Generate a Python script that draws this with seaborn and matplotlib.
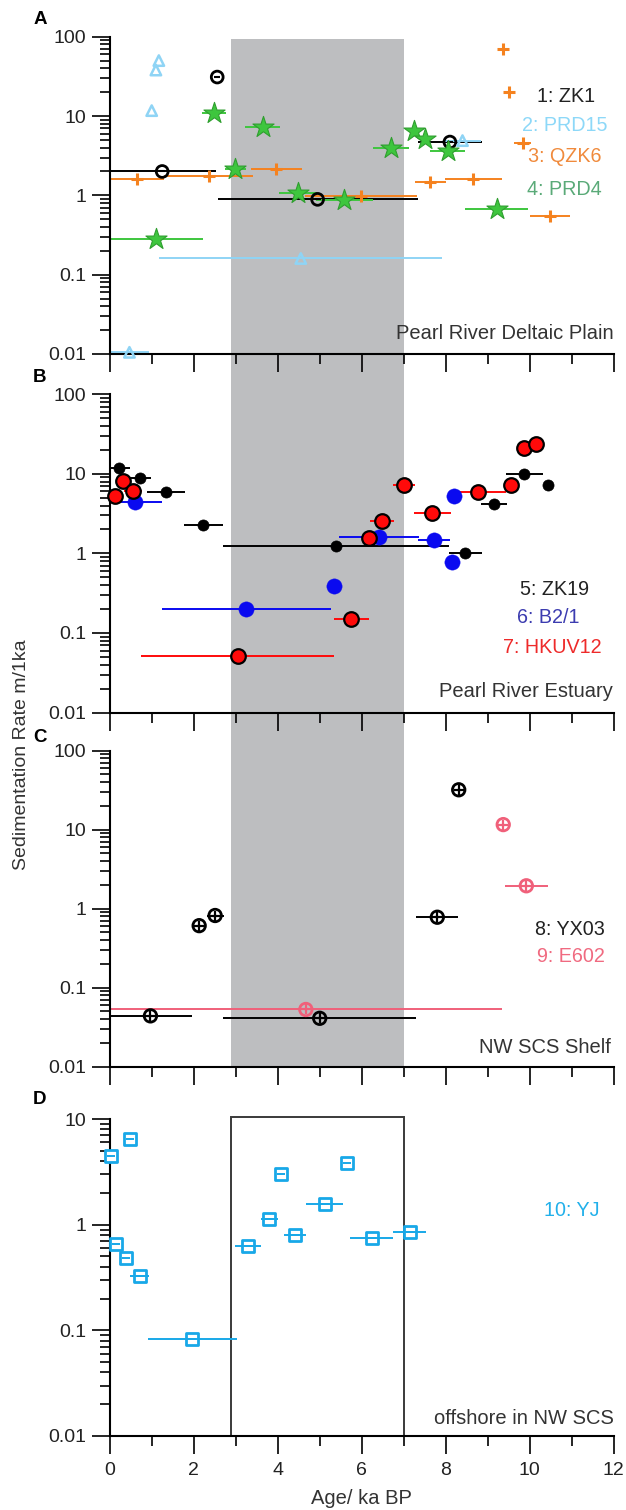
import numpy as np
import pandas as pd
import seaborn as sns
import matplotlib
matplotlib.use("Agg")
from matplotlib import pyplot as plt
from matplotlib import transforms
from matplotlib.patches import Rectangle
from matplotlib.ticker import FixedLocator, LogLocator, NullFormatter, FuncFormatter, MultipleLocator

# == data (age in ka BP, sedimentation rate in m/1ka, half width of age range) ==
# A: Pearl River Deltaic Plain
zk1_age = [1.25, 2.56, 4.95, 8.1]
zk1_rate = [2.0, 31.0, 0.89, 4.7]
zk1_err = [1.27, 0.0, 2.38, 0.77]

prd15_age = [0.47, 1.0, 1.1, 1.17, 4.55, 8.4]
prd15_rate = [0.0105, 11.7, 38.0, 50.0, 0.16, 4.9]
prd15_err = [0.47, 0.0, 0.0, 0.0, 3.37, 0.45]

qzk6_age = [0.64, 2.36, 3.97, 5.98, 7.63, 8.66, 9.37, 9.51, 9.83, 10.48]
qzk6_rate = [1.59, 1.77, 2.13, 0.98, 1.49, 1.61, 70.0, 20.0, 4.6, 0.55]
qzk6_err = [0.65, 1.06, 0.6, 1.33, 0.37, 0.68, 0.0, 0.0, 0.2, 0.47]

prd4_age = [1.1, 2.48, 2.99, 3.64, 4.48, 5.59, 6.69, 7.25, 7.51, 8.05, 9.21]
prd4_rate = [0.28, 11.0, 2.13, 7.3, 1.06, 0.87, 3.92, 6.5, 5.2, 3.65, 0.67]
prd4_err = [1.12, 0.29, 0.25, 0.42, 0.45, 0.67, 0.43, 0.0, 0.0, 0.42, 0.76]

# B: Pearl River Estuary
zk19_age = [0.23, 0.72, 1.34, 2.23, 5.38, 8.47, 9.15, 9.87, 10.44]
zk19_rate = [11.9, 8.8, 5.9, 2.27, 1.25, 1.0, 4.17, 10.1, 7.2]
zk19_err = [0.25, 0.26, 0.45, 0.47, 2.69, 0.4, 0.3, 0.44, 0.0]

b21_age = [0.61, 3.25, 5.35, 6.42, 7.72, 8.15, 8.2]
b21_rate = [4.4, 0.2, 0.39, 1.59, 1.47, 0.79, 5.3]
b21_err = [0.63, 2.01, 0.0, 0.95, 0.38, 0.0, 0.0]

hkuv12_age = [0.13, 0.31, 0.55, 3.05, 5.75, 6.18, 6.48, 7.01, 7.68, 8.76, 9.55, 9.87, 10.14]
hkuv12_rate = [5.3, 8.2, 6.1, 0.052, 0.148, 1.55, 2.55, 7.3, 3.24, 5.9, 7.3, 21.0, 23.7]
hkuv12_err = [0.0, 0.0, 0.22, 2.3, 0.42, 0.0, 0.29, 0.27, 0.44, 0.68, 0.0, 0.1, 0.0]

# C: NW SCS Shelf
yx03_age = [0.97, 2.13, 2.51, 5.0, 7.8, 8.31]
yx03_rate = [0.044, 0.61, 0.82, 0.041, 0.78, 32.0]
yx03_err = [0.98, 0.0, 0.2, 2.3, 0.5, 0.0]

e602_age = [4.67, 9.37, 9.92]
e602_rate = [0.053, 11.6, 1.95]
e602_err = [4.67, 0.0, 0.51]

# D: offshore in NW SCS
yj_age = [0.04, 0.49, 0.14, 0.38, 0.71, 1.97, 3.29, 3.8, 4.08, 4.41, 5.12, 5.65, 6.24, 7.14]
yj_rate = [4.5, 6.5, 0.65, 0.48, 0.33, 0.082, 0.63, 1.14, 3.03, 0.8, 1.57, 3.81, 0.74, 0.85]
yj_err = [0.0, 0.0, 0.0, 0.0, 0.22, 1.05, 0.31, 0.2, 0.0, 0.27, 0.44, 0.0, 0.51, 0.4]

cool_start, cool_end = 2.9, 7.0

sns.set_theme(style="ticks")
plt.rcParams['font.family'] = ['Liberation Sans', 'DejaVu Sans']

W, H = 626, 1510
fig = plt.figure(figsize=(W / 100, H / 100), dpi=100)
fig.patch.set_facecolor('white')


def frame(top, bottom):
    # axes box from pixel rows
    x0, x1 = 109.7 / W, 613.7 / W
    return fig.add_axes([x0, 1 - bottom / H, x1 - x0, (bottom - top) / H])


axA = frame(36.7, 354.0)
axB = frame(394.3, 712.5)
axC = frame(750.7, 1066.7)
axD = frame(1119.0, 1436.0)


def series(ax, age, rate, err, color, marker, size, face=None, edge=None, ew=1.5, lc=None):
    df = pd.DataFrame({'age': age, 'rate': rate, 'err': err})
    df['lo'] = df['age'] - df['err']
    df['hi'] = df['age'] + df['err']
    ax.hlines(df['rate'], df['lo'], df['hi'], color=lc or color, lw=1.4, zorder=2)
    sns.scatterplot(data=df, x='age', y='rate', ax=ax, marker=marker, s=size ** 2,
                    color=face if face is not None else color,
                    edgecolor=edge if edge is not None else color,
                    linewidth=ew, zorder=3, legend=False, clip_on=False)
    return df


# A
d = series(axA, zk1_age, zk1_rate, zk1_err, 'black', 'o', 8.5, face='none', edge='black', ew=2.0)
sns.scatterplot(data=d, x='age', y='rate', ax=axA, marker='_', s=25, color='black', linewidth=1.5,
                zorder=3, legend=False)
series(axA, prd15_age, prd15_rate, prd15_err, '#8fd4f5', '^', 7.5, face='none', edge='#8fd4f5', ew=1.8)
series(axA, qzk6_age, qzk6_rate, qzk6_err, '#f5821f', '+', 9, ew=2.2)
series(axA, prd4_age, prd4_rate, prd4_err, '#3ec63e', '*', 16, face='#3ec63e', edge='#2f9e2f', ew=0.8,
       lc='#3ec63e')

# B
series(axB, zk19_age, zk19_rate, zk19_err, 'black', 'o', 8, face='black', edge='black', ew=0.5)
series(axB, b21_age, b21_rate, b21_err, '#0a0af0', 'o', 11, face='#0a0af0', edge='#0a0af0', ew=0.3)
series(axB, hkuv12_age, hkuv12_rate, hkuv12_err, '#ff0a0a', 'o', 10.5, face='#ff0a0a', edge='black', ew=1.6)

# C
for age, rate, err, col in [(yx03_age, yx03_rate, yx03_err, 'black'),
                            (e602_age, e602_rate, e602_err, '#f0607a')]:
    d = series(axC, age, rate, err, col, 'o', 9, face='none', edge=col, ew=2.0)
    sns.scatterplot(data=d, x='age', y='rate', ax=axC, marker='+', s=60, color=col, linewidth=1.6,
                    zorder=3, legend=False, clip_on=False)

# D
d = pd.DataFrame({'age': yj_age, 'rate': yj_rate, 'err': yj_err})
sns.scatterplot(data=d, x='age', y='rate', ax=axD, marker='s', s=8 ** 2, color='white',
                edgecolor='#18a8e8', linewidth=2.0, zorder=3, legend=False, clip_on=False)
axD.hlines(d['rate'], d['age'] - d['err'], d['age'] + d['err'], color='#18a8e8', lw=1.4, zorder=4)
sns.scatterplot(data=d, x='age', y='rate', ax=axD, marker='_', s=30, color='#18a8e8', linewidth=1.4,
                zorder=4, legend=False, clip_on=False)

# grey band behind A-C
blend = transforms.blended_transform_factory(axA.transData, fig.transFigure)
y_top = 1 - 39.0 / H
y_bot = 1 - 1066.7 / H
band = Rectangle((cool_start, y_bot), cool_end - cool_start, y_top - y_bot, transform=blend,
                 facecolor='#bdbec0', edgecolor='none', zorder=-1)
fig.add_artist(band)

# outline box in D
axD.add_patch(Rectangle((cool_start, 0.01), cool_end - cool_start, 10.4 - 0.01, fill=False,
                        edgecolor='#3a3a3a', lw=1.4, clip_on=False, zorder=1))

# axes styling
for ax, ylo, yhi in [(axA, 0.01, 100), (axB, 0.01, 100), (axC, 0.01, 100), (axD, 0.01, 10)]:
    ax.set_facecolor('none')
    ax.set_yscale('log')
    ax.set_xlim(0, 12)
    ax.set_ylim(ylo, yhi)
    ax.set_xlabel('')
    ax.set_ylabel('')
    ax.yaxis.set_major_locator(FixedLocator([v for v in [0.01, 0.1, 1, 10, 100] if v <= yhi]))
    ax.yaxis.set_major_formatter(FuncFormatter(lambda v, p: f'{v:g}'))
    ax.yaxis.set_minor_locator(LogLocator(base=10, subs=np.arange(2, 10)))
    ax.yaxis.set_minor_formatter(NullFormatter())
    ax.xaxis.set_major_locator(MultipleLocator(2))
    ax.xaxis.set_minor_locator(MultipleLocator(1))
    for s in ['top', 'right']:
        ax.spines[s].set_visible(False)
    for s in ['left', 'bottom']:
        ax.spines[s].set_linewidth(1.5)
        ax.spines[s].set_color('black')
    ax.tick_params(which='major', length=13, width=1.2, color='black', labelsize=14,
                   labelcolor='#222222')
    ax.tick_params(which='minor', length=7, width=1.2, color='black')
    ax.tick_params(axis='y', which='major', pad=4)
    ax.tick_params(axis='x', which='major', pad=6)
    if ax is not axD:
        ax.tick_params(axis='x', labelbottom=False)

axD.set_xlabel('Age/ ka BP', fontsize=14.5, color='#333333', labelpad=7)
fig.text(0.035, 0.5, 'Sedimentation Rate m/1ka', rotation=90, ha='center', va='center',
         fontsize=14, color='#333333')

# series and region labels
labels = [
    (axA, 0.963, 0.81, '1: ZK1', '#222222'),
    (axA, 0.987, 0.719, '2: PRD15', '#8dd8f8'),
    (axA, 0.975, 0.624, '3: QZK6', '#f08a3c'),
    (axA, 0.977, 0.52, '4: PRD4', '#5aaa78'),
    (axA, 0.999, 0.066, 'Pearl River Deltaic Plain', '#333333'),
    (axB, 0.951, 0.388, '5: ZK19', '#222222'),
    (axB, 0.933, 0.297, '6: B2/1', '#3c3cb0'),
    (axB, 0.977, 0.205, '7: HKUV12', '#ee2a2a'),
    (axB, 0.999, 0.066, 'Pearl River Estuary', '#333333'),
    (axC, 0.982, 0.435, '8: YX03', '#222222'),
    (axC, 0.982, 0.3475, '9: E602', '#f06a80'),
    (axC, 0.995, 0.06, 'NW SCS Shelf', '#333333'),
    (axD, 0.971, 0.711, '10: YJ', '#22b0ea'),
    (axD, 1.0, 0.055, 'offshore in NW SCS', '#333333'),
]
for ax, x, y, txt, col in labels:
    size = 14.5 if col == '#333333' else 14.2
    ax.text(x, y, txt, transform=ax.transAxes, ha='right', va='center', fontsize=size, color=col)

for letter, ypx in [('A', 19), ('B', 377), ('C', 738), ('D', 1100)]:
    fig.text(40 / W, 1 - ypx / H, letter, ha='center', va='center', fontsize=13.5,
             fontweight='bold', color='black')

fig.savefig('out.png', dpi=100)
